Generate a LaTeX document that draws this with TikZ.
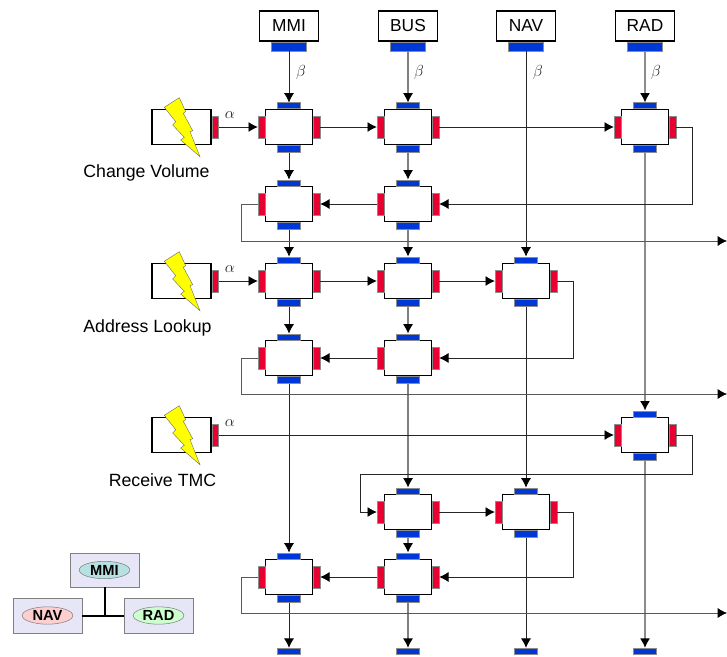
\documentclass[tikz,border=0pt]{standalone}
\usepackage{fontspec}
\setmainfont{Liberation Sans}
\usetikzlibrary{arrows.meta,shapes.geometric}
\definecolor{tabblue}{HTML}{0038D8}
\definecolor{tabred}{HTML}{EA0030}
\definecolor{boltyellow}{HTML}{FFFF00}
\definecolor{lilac}{HTML}{E6E6F6}
\definecolor{pillcyan}{HTML}{B6E0E2}
\definecolor{pillred}{HTML}{FFCFCF}
\definecolor{pillgreen}{HTML}{CEFFCE}
\tikzset{
  taskbox/.style={draw,line width=0.9pt,fill=white,inner sep=0pt,minimum width=35.25pt,minimum height=26.25pt},
  trigbox/.style={taskbox,minimum width=44.25pt},
  srcbox/.style={taskbox,minimum width=44.25pt,minimum height=22.5pt,font=\fontsize{13}{15}\selectfont},
  bluetab/.style={draw=black!45,line width=0.3pt,fill=tabblue,inner sep=0pt,minimum width=17.25pt,minimum height=4.5pt},
  srctab/.style={bluetab,minimum width=26.25pt,minimum height=6.75pt},
  redtab/.style={draw=black!45,line width=0.3pt,fill=tabred,inner sep=0pt,minimum width=5pt,minimum height=16.5pt},
  conn/.style={line width=0.55pt,black!85,-{Latex[length=7pt,width=7.5pt,black]}},
  greyconn/.style={conn,line width=0.8pt,black!50},
  wideconn/.style={conn,line width=1.1pt,black!45},
  lbl/.style={font=\fontsize{13.3}{15}\selectfont,inner sep=0pt,anchor=base},
  sym/.style={font=\fontsize{13}{15}\selectfont,text=black!85,inner sep=0pt},
  dombox/.style={draw=black!50,line width=0.7pt,fill=lilac,inner sep=0pt,minimum width=51.75pt,minimum height=25.5pt},
  pill/.style={ellipse,draw=black!50,line width=0.4pt,inner sep=0pt,minimum width=38pt,minimum height=13pt,font=\fontsize{11}{12}\bfseries\selectfont}
}
\begin{document}
\begin{tikzpicture}[x=0.75pt,y=-0.75pt]
\useasboundingbox (0,0) rectangle (727,656);

% sources along the top
\foreach \name/\txt/\xx in {mmi/MMI/289,bus/BUS/408,nav/NAV/526,rad/RAD/645} {
  \node[srcbox] (\name) at (\xx,26) {\txt};
  \node[srctab,anchor=north] (\name b) at (\name.south) {};
}

% tasks
\foreach \name/\xx/\yy in {t11/289/127,t12/408/127,t14/645/127,t21/289/204,t22/408/204,
    t31/289/281,t32/408/281,t33/526/281,t41/289/358,t42/408/358,t54/645/435,
    t62/408/512,t63/526/512,t71/289/577,t72/408/577} {
  \node[taskbox] (\name) at (\xx,\yy) {};
  \node[bluetab,anchor=south] (\name t) at (\name.north) {};
  \node[bluetab,anchor=north,minimum height=5.25pt] (\name b) at (\name.south) {};
  \node[redtab,anchor=east] (\name l) at (\name.west) {};
  \node[redtab,anchor=west] (\name r) at (\name.east) {};
}

% sinks along the bottom
\foreach \name/\xx in {endm/289,endb/408,endn/526,endr/645}
  \node[bluetab] (\name) at (\xx,651) {};

% triggers
\foreach \name/\yy/\txt/\tx/\ty in {trg1/127/Change Volume/146.5/177,trg2/281/Address Lookup/147.5/332,trg3/435/Receive TMC/162.5/486} {
  \node[trigbox] (\name) at (181.5,\yy) {};
  \node[redtab,anchor=west] (\name r) at (\name.east) {};
  \node[lbl] (\name txt) at (\tx,\ty) {\txt};
  \node[sym] (\name a) at (230,\yy-12) {$\alpha$};
  \begin{scope}[shift={(181.5,\yy)}]
    \fill[boltyellow,draw=black!60,line width=0.3pt] (-2.2,-29.3) -- (-17.2,-19.7) -- (-5.8,-5.3) -- (-8.8,-2) -- (2.8,10.3) -- (-0.8,13) -- (18.5,29.7) -- (8.5,4.7) -- (11.2,3.7) -- (1.8,-13.7) -- (4.2,-15.3) -- cycle;
  \end{scope}
}

% beta labels
\foreach \name/\xx in {bm/301,bb/419,bn/538,br/656}
  \node[sym] (\name) at (\xx,73) {$\beta$};

% free ends and corners
\coordinate (turn1) at (692,204);
\coordinate (turn2) at (573,358);
\coordinate (turn3) at (692,474);
\coordinate (turn3b) at (360,474);
\coordinate (turn4) at (573,577);
\coordinate (back1) at (241,241);
\coordinate (back2) at (241,394);
\coordinate (back3) at (241,613);
\coordinate (out1) at (727,241);
\coordinate (out2) at (727,394);
\coordinate (out3) at (727,613);

% downward connectors
\foreach \a/\b in {mmib/t11t,t11b/t21t,t21b/t31t,t31b/t41t,t41b/t71t,t71b/endm,
    navb/t33t,t33b/t63t,t63b/endn}
  \draw[conn] (\a.south) -- (\b.north);
\foreach \a/\b in {busb/t12t,t12b/t22t,t22b/t32t,t32b/t42t,t42b/t62t,t62b/t72t,t72b/endb}
  \draw[greyconn] (\a.south) -- (\b.north);
\foreach \a/\b in {radb/t14t,t14b/t54t,t54b/endr}
  \draw[wideconn] (\a.south) -- (\b.north);

% rightward and leftward connectors
\foreach \a/\b in {trg1r/t11l,t11r/t12l,t12r/t14l,trg2r/t31l,t31r/t32l,t32r/t33l,trg3r/t54l,t62r/t63l}
  \draw[conn] (\a.east) -- (\b.west);
\foreach \a/\b in {t22l/t21r,t42l/t41r,t72l/t71r}
  \draw[conn] (\a.west) -- (\b.east);

% loops back
\draw[conn] (t14r.east) -| (turn1) -- (t22r.east);
\draw[conn] (t33r.east) -| (turn2) -- (t42r.east);
\draw[conn] (t63r.east) -| (turn4) -- (t72r.east);
\draw[conn] (t54r.east) -| (turn3) -- (turn3b) |- (t62l.west);
\draw[conn,black!65] (t21l.west) -| (back1) -- (out1);
\draw[conn,black!65] (t41l.west) -| (back2) -- (out2);
\draw[conn,black!65] (t71l.west) -| (back3) -- (out3);

% small bus legend
\node[dombox] (dmmi) at (104.5,570) {};
\node[dombox,minimum height=26.25pt] (dnav) at (47.5,615.5) {};
\node[dombox,minimum height=26.25pt] (drad) at (158.5,615.5) {};
\node[pill,fill=pillcyan] (pmmi) at (dmmi) {MMI};
\node[pill,fill=pillred] (pnav) at (dnav) {NAV};
\node[pill,fill=pillgreen] (prad) at (drad) {RAD};
\coordinate (hub) at (dmmi.south |- dnav.east);
\draw[line width=1.5pt] (dmmi.south) -- (hub);
\draw[line width=1.5pt] (dnav.east) -- (drad.west);
\end{tikzpicture}
\end{document}
